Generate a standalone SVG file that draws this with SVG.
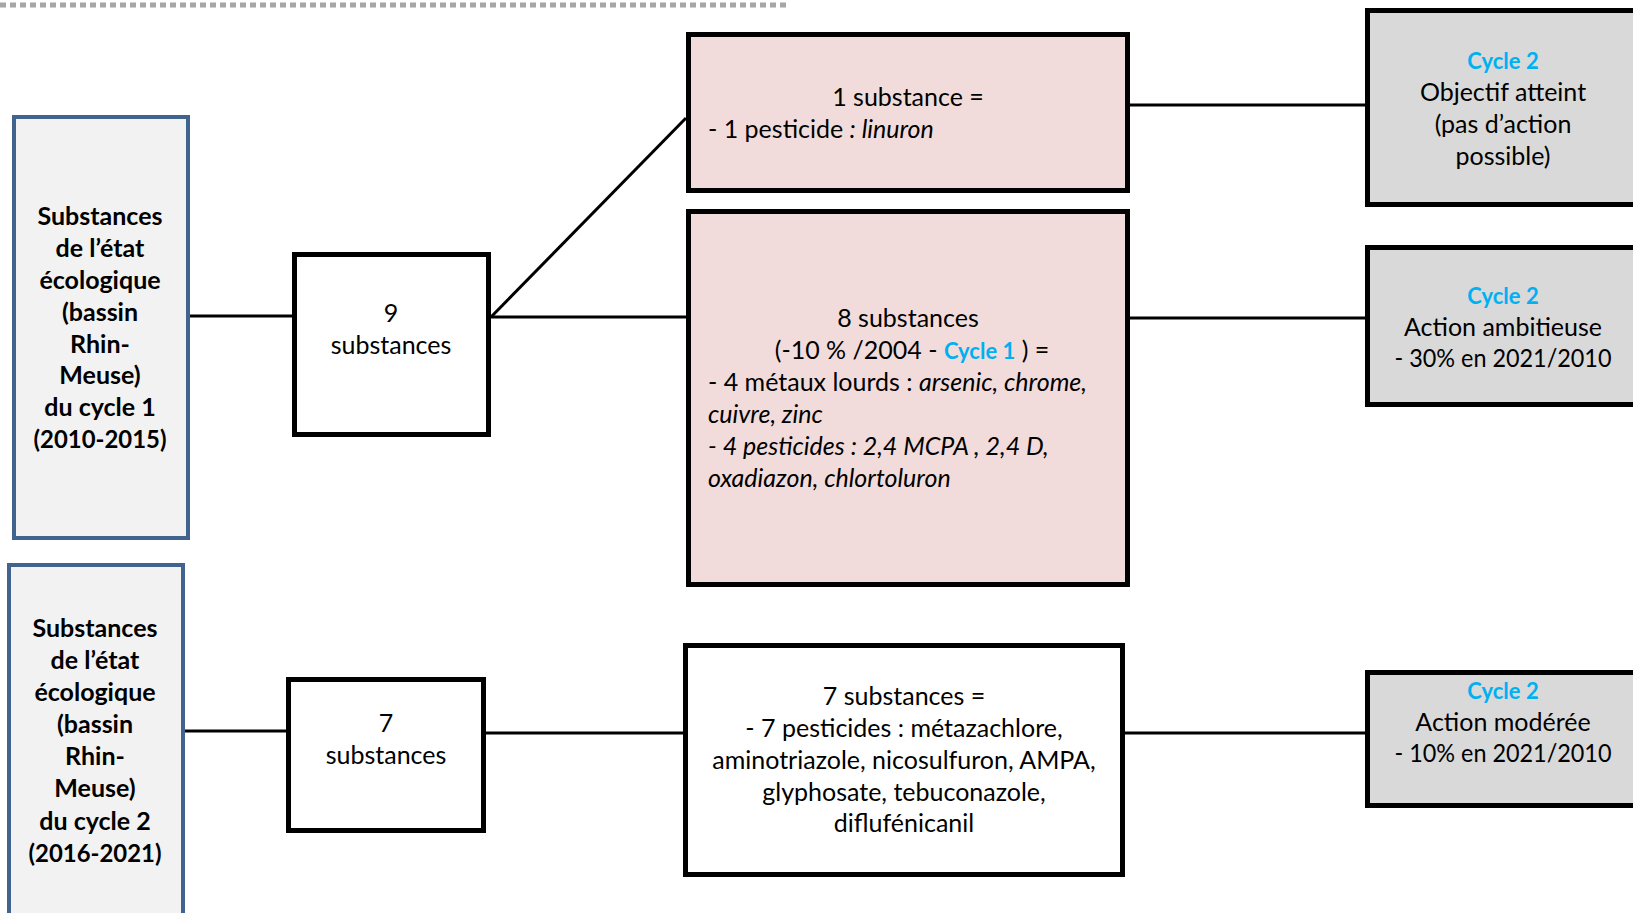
<svg xmlns="http://www.w3.org/2000/svg" width="1633" height="913" viewBox="0 0 1633 913">
<style>
text{font-family:Lato,"Open Sans","Liberation Sans",sans-serif;font-size:25px;fill:#000}
.b{font-weight:bold}
.c{text-anchor:middle}
.i{font-style:italic}
.bl{fill:#00B0F0;font-weight:bold;font-size:22px}
.src{fill:#F2F2F2;stroke:#41648F;stroke-width:4}
.wb{fill:#fff;stroke:#000;stroke-width:5}
.pk{fill:#F2DCDB;stroke:#000;stroke-width:5}
.gr{fill:#D9D9D9;stroke:#000;stroke-width:5}
.ln{stroke:#000;stroke-width:3;fill:none}
</style>
<line x1="0" y1="5" x2="790" y2="5" stroke="#A6A6A6" stroke-width="5" stroke-dasharray="6 4"/>
<g id="connectors">
<line class="ln" x1="190" y1="316" x2="292" y2="316"/>
<line class="ln" x1="491" y1="317" x2="686" y2="317"/>
<line class="ln" x1="491" y1="317" x2="686" y2="118"/>
<line class="ln" x1="1130" y1="105" x2="1365" y2="105"/>
<line class="ln" x1="1130" y1="318" x2="1365" y2="318"/>
<line class="ln" x1="185" y1="731" x2="286" y2="731"/>
<line class="ln" x1="486" y1="733" x2="683" y2="733"/>
<line class="ln" x1="1125" y1="733" x2="1365" y2="733"/>
</g>
<g id="src1">
<rect class="src" x="14" y="117" width="174" height="421"/>
<text class="b c" x="100"><tspan x="100" y="225">Substances</tspan><tspan x="100" y="257">de l’état</tspan><tspan x="100" y="289">écologique</tspan><tspan x="100" y="321">(bassin</tspan><tspan x="100" y="353">Rhin-</tspan><tspan x="100" y="384">Meuse)</tspan><tspan x="100" y="416">du cycle 1</tspan></text>
<text class="b c" x="100" y="448" textLength="133" lengthAdjust="spacingAndGlyphs">(2010-2015)</text>
</g>
<g id="src2">
<rect class="src" x="9" y="565" width="174" height="400"/>
<text class="b c" x="95"><tspan x="95" y="637">Substances</tspan><tspan x="95" y="669">de l’état</tspan><tspan x="95" y="701">écologique</tspan><tspan x="95" y="733">(bassin</tspan><tspan x="95" y="765">Rhin-</tspan><tspan x="95" y="797">Meuse)</tspan><tspan x="95" y="830">du cycle 2</tspan></text>
<text class="b c" x="95" y="862" textLength="133" lengthAdjust="spacingAndGlyphs">(2016-2021)</text>
</g>
<g id="n9">
<rect class="wb" x="294.5" y="254.5" width="194" height="180"/>
<text class="c"><tspan x="391" y="322">9</tspan><tspan x="391" y="354">substances</tspan></text>
</g>
<g id="n7">
<rect class="wb" x="288.5" y="679.5" width="195" height="151"/>
<text class="c"><tspan x="386" y="732">7</tspan><tspan x="386" y="764">substances</tspan></text>
</g>
<g id="p1">
<rect class="pk" x="688.5" y="34.5" width="439" height="156"/>
<text class="c" x="908" y="106">1 substance =</text>
<text x="708" y="138">- 1 pesticide <tspan class="i">: linuron</tspan></text>
</g>
<g id="p8">
<rect class="pk" x="688.5" y="211.5" width="439" height="373"/>
<text class="c" x="908" y="327">8 substances</text>
<text class="c" x="912" y="359">(-10 % /2004 - <tspan class="bl">Cycle 1</tspan> ) =</text>
<text x="708" y="391">- 4 métaux lourds : <tspan class="i">arsenic, chrome,</tspan></text>
<text class="i" x="708" y="423">cuivre, zinc</text>
<text class="i" x="708" y="455">- 4 pesticides : 2,4 MCPA , 2,4 D,</text>
<text class="i" x="708" y="487">oxadiazon, chlortoluron</text>
</g>
<g id="m7">
<rect class="wb" x="685.5" y="645.5" width="437" height="229"/>
<text class="c"><tspan x="904" y="705">7 substances =</tspan><tspan x="904" y="737">- 7 pesticides : métazachlore,</tspan><tspan x="904" y="769">aminotriazole, nicosulfuron, AMPA,</tspan><tspan x="904" y="801">glyphosate, tebuconazole,</tspan><tspan x="904" y="832">diflufénicanil</tspan></text>
</g>
<g id="g1">
<rect class="gr" x="1367.5" y="10.5" width="300" height="194"/>
<text class="c"><tspan class="bl" x="1503" y="69">Cycle 2</tspan><tspan x="1503" y="101">Objectif atteint</tspan><tspan x="1503" y="133">(pas d’action</tspan><tspan x="1503" y="165">possible)</tspan></text>
</g>
<g id="g2">
<rect class="gr" x="1367.5" y="247.5" width="300" height="157"/>
<text class="c"><tspan class="bl" x="1503" y="304">Cycle 2</tspan><tspan x="1503" y="336">Action ambitieuse</tspan></text>
<text class="c" x="1503" y="367" textLength="217" lengthAdjust="spacingAndGlyphs">- 30% en 2021/2010</text>
</g>
<g id="g3">
<rect class="gr" x="1367.5" y="672.5" width="300" height="133"/>
<text class="c"><tspan class="bl" x="1503" y="699">Cycle 2</tspan><tspan x="1503" y="731">Action modérée</tspan></text>
<text class="c" x="1503" y="762" textLength="217" lengthAdjust="spacingAndGlyphs">- 10% en 2021/2010</text>
</g>
</svg>
